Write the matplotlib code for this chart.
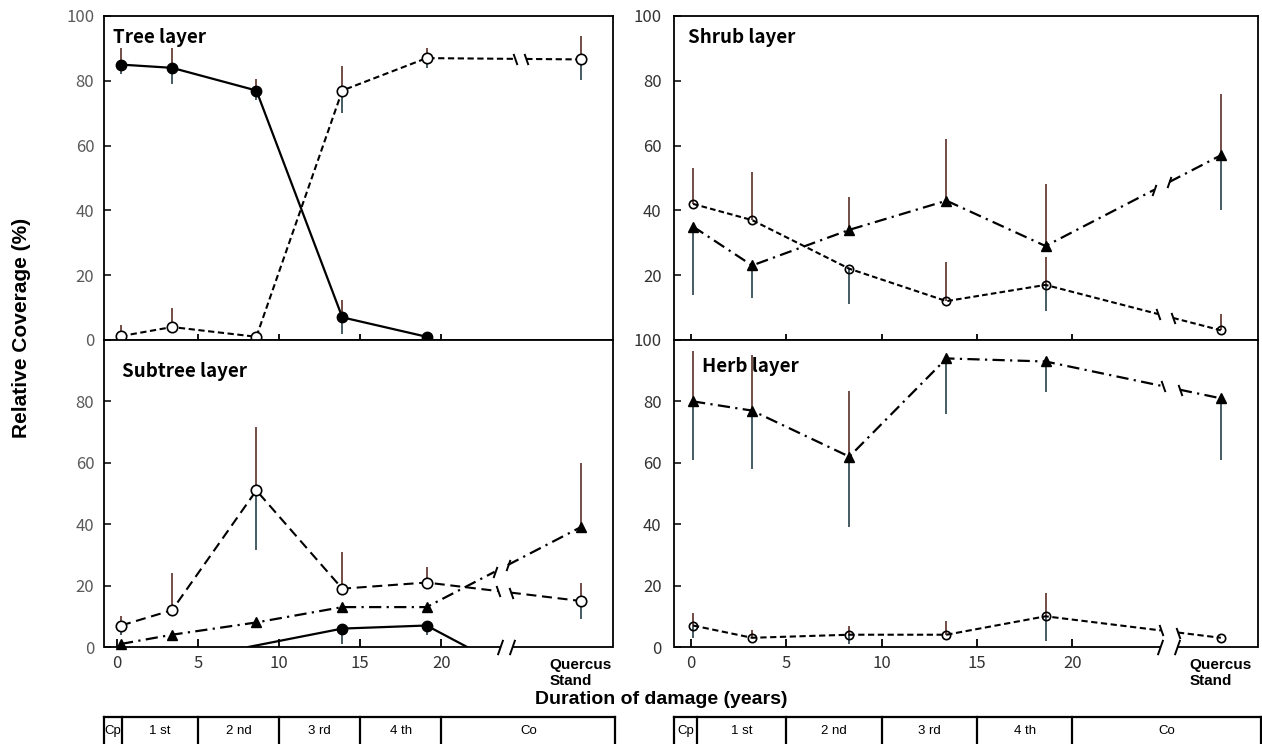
import numpy as np
import matplotlib
matplotlib.use("Agg")
import matplotlib.pyplot as plt
from matplotlib.transforms import blended_transform_factory

# ---------------- data ----------------
# duration of damage (years) of the surveyed stands
years_left = [0.25, 3.4, 8.6, 13.9, 19.1]
years_right = [0.1, 3.2, 8.3, 13.4, 18.6]

# Tree layer (last value of the open series = Quercus stand)
tree_solid = [85, 84, 77, 7, 1]
tree_solid_lo = [3, 5, 3, 5, 0]
tree_solid_hi = [5, 6, 3.5, 5.5, 0]
tree_open = [1.2, 4, 1, 77, 87, 86.6]
tree_open_lo = [0, 0, 0, 7, 3, 6.5]
tree_open_hi = [3.5, 6, 0, 7.5, 3, 7.3]

# Subtree layer
sub_open = [7, 12, 51, 19, 21, 15]
sub_open_lo = [3, 0, 19.5, 0, 0, 6]
sub_open_hi = [3, 12, 20.5, 12, 5, 6]
sub_tri = [1, 4, 8, 13, 13, 39]
sub_tri_lo = [0, 0, 0, 0, 0, 0]
sub_tri_hi = [0, 0, 0, 0, 0, 21]
sub_solid_years = [8.1, 13.9, 19.1, 21.6]
sub_solid = [0, 6, 7, 0]
sub_solid_lo = [0, 5, 3, 0]
sub_solid_hi = [0, 0, 0, 0]

# Shrub layer
shrub_open = [42, 37, 22, 12, 17, 3]
shrub_open_lo = [0, 0, 11, 0, 8, 0]
shrub_open_hi = [11, 15, 0, 12, 8.5, 5]
shrub_tri = [35, 23, 34, 43, 29, 57]
shrub_tri_lo = [21, 10, 0, 0, 0, 17]
shrub_tri_hi = [0, 0, 10, 19, 19, 19]

# Herb layer
herb_tri = [80, 77, 62, 94, 93, 81]
herb_tri_lo = [19, 19, 23, 18, 10, 20]
herb_tri_hi = [16.5, 18, 21.5, 0, 0, 0]
herb_open = [7, 3, 4, 4, 10, 3]
herb_open_lo = [4, 0, 3, 0, 8, 0]
herb_open_hi = [4, 2.5, 3, 4.5, 7.5, 0]

x_ticks = [0, 5, 10, 15, 20]
y_ticks = [0, 20, 40, 60, 80, 100]
stand_label = "Quercus\nStand"
stage_labels = ["Cp", "1 st", "2 nd", "3 rd", "4 th", "Co"]
stage_bounds = [0.3, 5, 10, 15, 20]

# ---------------- layout ----------------
W, H = 1262, 744
fig = plt.figure(figsize=(W / 100, H / 100), dpi=100)


def box(l, t, r, b):
    return [l / W, 1 - b / H, (r - l) / W, (b - t) / H]


STAND_L, STAND_R = 28.6, 27.8
XLIM_L = (-0.8, 30.6)
XLIM_R = (-0.9, 29.75)

ax_tree = fig.add_axes(box(104, 16, 613, 340))
ax_sub = fig.add_axes(box(104, 340, 613, 647))
ax_shrub = fig.add_axes(box(674, 16, 1258, 340))
ax_herb = fig.add_axes(box(674, 340, 1258, 647))

TICK_FONT = ["Noto Sans CJK KR", "DejaVu Sans"]
LABEL_FONT = ["Liberation Sans", "DejaVu Sans"]

SLASH = [(-0.35, -1), (0.35, 1)]
BACKSLASH = [(-0.35, 1), (0.35, -1)]

UP_COLOR = "#5a2f25"
DOWN_COLOR = "#263f4a"


def setup(ax, xlim, top, ylabels_color, ypad, hide_ylabel):
    ax.set_xlim(*xlim)
    ax.set_ylim(0, 100)
    ax.set_xticks(x_ticks)
    ax.set_yticks(y_ticks)
    labels = ["" if v == hide_ylabel else str(v) for v in y_ticks]
    ax.set_yticklabels(labels, fontfamily=TICK_FONT, fontsize=12,
                       color=ylabels_color)
    ax.tick_params(axis="y", direction="in", length=5, width=1.1, pad=ypad)
    if top:
        ax.tick_params(axis="x", direction="inout", length=9, width=1.3,
                       labelbottom=False)
    else:
        ax.set_xticklabels([str(v) for v in x_ticks], fontfamily=TICK_FONT,
                           fontsize=12, color="#333333")
        ax.tick_params(axis="x", direction="in", length=6, width=1.3, pad=6)
    for s in ax.spines.values():
        s.set_linewidth(1.3)
        s.set_color("black")


def axis_break(ax, a, b):
    """Interrupted bottom axis with // marks."""
    ax.spines["bottom"].set_visible(False)
    tr = ax.get_xaxis_transform()
    x0, x1 = ax.get_xlim()
    ax.plot([x0, a], [0, 0], transform=tr, color="black", lw=1.3,
            clip_on=False, zorder=6, solid_capstyle="butt")
    ax.plot([b, x1], [0, 0], transform=tr, color="black", lw=1.3,
            clip_on=False, zorder=6, solid_capstyle="butt")
    ax.plot([a, b], [0, 0], transform=tr, ls="none", marker=SLASH, ms=11,
            mec="black", mew=1.4, clip_on=False, zorder=6)


def draw_line(ax, x, y, brk=None, gap=0.8, **kw):
    x = np.asarray(x, float)
    y = np.asarray(y, float)
    if brk is not None and x[-2] < brk < x[-1]:
        xa, xb = brk - gap / 2, brk + gap / 2
        ya, yb = np.interp([xa, xb], x[-2:], y[-2:])
        ax.plot(np.r_[x[:-1], xa], np.r_[y[:-1], ya], **kw)
        ax.plot([xb, x[-1]], [yb, y[-1]], **kw)
        mark = SLASH if y[-1] - y[-2] > 3 else BACKSLASH
        ax.plot([xa, xb], [ya, yb], ls="none", marker=mark, ms=8,
                mec="black", mew=1.4, zorder=4)
    else:
        ax.plot(x, y, **kw)


def errbars(ax, x, y, lo, hi):
    x = np.asarray(x, float)
    y = np.asarray(y, float)
    lo = np.asarray(lo, float)
    hi = np.asarray(hi, float)
    ax.vlines(x[hi > 0], y[hi > 0], (y + hi)[hi > 0], color=UP_COLOR,
              lw=1.2, zorder=2)
    ax.vlines(x[lo > 0], (y - lo)[lo > 0], y[lo > 0], color=DOWN_COLOR,
              lw=1.2, zorder=2)


def markers(ax, x, y, kind, ms=7.5, hollow_fill="white"):
    if kind == "solid":
        ax.plot(x, y, ls="none", marker="o", ms=ms, mfc="black", mec="black",
                zorder=5, clip_on=False)
    elif kind == "open":
        ax.plot(x, y, ls="none", marker="o", ms=ms, mfc=hollow_fill,
                mec="black", mew=1.2, zorder=5, clip_on=False)
    else:
        ax.plot(x, y, ls="none", marker="^", ms=ms, mfc="black", mec="black",
                zorder=5, clip_on=False)


SOLID = dict(color="black", lw=1.6, ls="-", zorder=3)
DASHDOT = dict(color="black", lw=1.6, ls=(0, (5.5, 2.4, 1.0, 2.4)), zorder=3)


def dashed(scale):
    return dict(color="black", lw=1.5, ls=(0, (3.0 * scale, 1.7 * scale)),
                zorder=3)


# ---------------- Tree layer ----------------
ax = ax_tree
setup(ax, XLIM_L, True, "#5a5a5a", 7, None)
xo = years_left + [STAND_L]
errbars(ax, years_left, tree_solid, tree_solid_lo, tree_solid_hi)
errbars(ax, xo, tree_open, tree_open_lo, tree_open_hi)
draw_line(ax, years_left, tree_solid, **SOLID)
draw_line(ax, xo, tree_open, brk=24.9, gap=0.7, **dashed(1.0))
markers(ax, years_left, tree_solid, "solid")
markers(ax, xo, tree_open, "open")

# ---------------- Subtree layer ----------------
ax = ax_sub
setup(ax, XLIM_L, False, "#5a5a5a", 7, 100)
errbars(ax, xo, sub_open, sub_open_lo, sub_open_hi)
errbars(ax, xo, sub_tri, sub_tri_lo, sub_tri_hi)
errbars(ax, sub_solid_years, sub_solid, sub_solid_lo, sub_solid_hi)
draw_line(ax, xo, sub_open, brk=23.9, gap=0.8, **dashed(1.6))
draw_line(ax, xo, sub_tri, brk=23.7, gap=0.8, **DASHDOT)
draw_line(ax, sub_solid_years, sub_solid, **SOLID)
markers(ax, xo, sub_open, "open")
markers(ax, xo, sub_tri, "tri")
sx = np.asarray(sub_solid_years)
sy = np.asarray(sub_solid)
markers(ax, sx[sy > 0], sy[sy > 0], "solid")
axis_break(ax, 23.6, 24.4)

# ---------------- Shrub layer ----------------
ax = ax_shrub
setup(ax, XLIM_R, True, "#333333", 9, 0)
xr = years_right + [STAND_R]
errbars(ax, xr, shrub_open, shrub_open_lo, shrub_open_hi)
errbars(ax, xr, shrub_tri, shrub_tri_lo, shrub_tri_hi)
draw_line(ax, xr, shrub_open, brk=24.9, gap=0.8, **dashed(0.9))
draw_line(ax, xr, shrub_tri, brk=24.7, gap=0.8, **DASHDOT)
markers(ax, xr, shrub_open, "open", ms=6, hollow_fill="none")
markers(ax, xr, shrub_tri, "tri")

# ---------------- Herb layer ----------------
ax = ax_herb
setup(ax, XLIM_R, False, "#333333", 9, None)
errbars(ax, xr, herb_tri, herb_tri_lo, herb_tri_hi)
errbars(ax, xr, herb_open, herb_open_lo, herb_open_hi)
draw_line(ax, xr, herb_tri, brk=25.2, gap=0.9, **DASHDOT)
draw_line(ax, xr, herb_open, brk=25.1, gap=0.9, **dashed(1.0))
markers(ax, xr, herb_tri, "tri")
markers(ax, xr, herb_open, "open", ms=6, hollow_fill="none")
axis_break(ax, 24.6, 25.5)

# ---------------- stand labels under the bottom axes ----------------
for ax, sxp in ((ax_sub, STAND_L), (ax_herb, STAND_R)):
    ax.annotate(stand_label, xy=(sxp, 0), xycoords=ax.get_xaxis_transform(),
                xytext=(0, -8), textcoords="offset points", ha="center",
                va="top", multialignment="left", fontweight="bold",
                fontsize=11, fontfamily=LABEL_FONT, linespacing=1.15,
                annotation_clip=False)

# ---------------- panel titles ----------------
title_kw = dict(fontfamily=TICK_FONT, fontweight="bold", fontsize=13.5,
                va="baseline", ha="left")
fig.text(113 / W, 1 - 43 / H, "Tree layer", **title_kw)
fig.text(688 / W, 1 - 43 / H, "Shrub layer", **title_kw)
fig.text(122 / W, 1 - 377 / H, "Subtree layer", **title_kw)
fig.text(702 / W, 1 - 372 / H, "Herb layer", **title_kw)

# ---------------- axis titles ----------------
fig.text(22 / W, 1 - 328 / H, "Relative Coverage (%)", rotation=90,
         ha="center", va="center", fontweight="bold", fontsize=15,
         fontfamily=LABEL_FONT)
fig.text(661 / W, 1 - 700 / H, "Duration of damage (years)", ha="center",
         va="center", fontweight="bold", fontsize=14, fontfamily=LABEL_FONT)

# ---------------- damage-stage tables ----------------
TOP, BOT = 1 - 717 / H, 1 - 760 / H
TXT_Y = 1 - 731 / H
for ax in (ax_sub, ax_herb):
    tr = blended_transform_factory(ax.transData, fig.transFigure)
    x0, x1 = ax.get_xlim()
    edges = [x0] + stage_bounds + [x1 + 0.15]
    line_kw = dict(transform=tr, color="black", lw=1.6, clip_on=False)
    fig.add_artist(plt.Line2D([edges[0], edges[-1]], [TOP, TOP], **line_kw))
    for e in edges:
        fig.add_artist(plt.Line2D([e, e], [TOP, BOT], **line_kw))
    for i, lab in enumerate(stage_labels):
        fig.text((edges[i] + edges[i + 1]) / 2, TXT_Y, lab, transform=tr,
                 ha="center", va="center", fontsize=9.5,
                 fontfamily=LABEL_FONT)

fig.savefig("out.png", dpi=100)
